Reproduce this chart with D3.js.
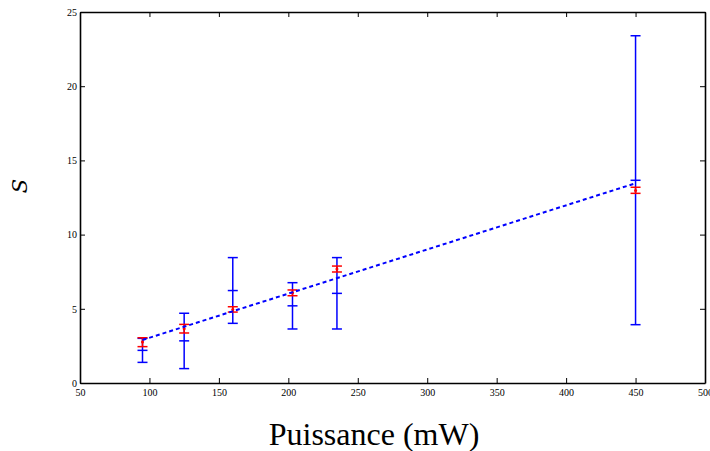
<!DOCTYPE html>
<html><head><meta charset="utf-8">
<script src="https://cdn.jsdelivr.net/npm/d3@7"></script>
<style>body{margin:0;background:#fff}svg{display:block}</style>
</head><body>
<svg id="c" width="710" height="451"></svg>
<script>
const power = [95, 125, 160, 203, 235, 450];
const blueMid = [2.2, 2.84, 6.23, 5.2, 6.04, 13.66];
const blueLow = [1.39, 0.97, 4.02, 3.64, 3.64, 3.93];
const blueHigh = [3.01, 4.70, 8.45, 6.76, 8.45, 23.40];
const redMid = [2.76, 3.66, 4.96, 6.08, 7.68, 12.98];
const redLow = [2.45, 3.37, 4.78, 5.88, 7.48, 12.78];
const redHigh = [3.05, 3.95, 5.14, 6.27, 7.88, 13.19];
const fitX = [95, 450];
const fitY = [2.9, 13.46];
const xTicks = [50,100,150,200,250,300,350,400,450,500];
const yTicks = [0,5,10,15,20,25];

const svg = d3.select("#c");
const L=80, R=705, T=12, B=383;
const x = d3.scaleLinear().domain([50,500]).range([L,R]);
const y = d3.scaleLinear().domain([0,25]).range([B,T]);
const font = "'Liberation Serif','DejaVu Serif',serif";

function styleAxis(g){
  g.selectAll("path.domain").attr("stroke","#000").attr("stroke-width",1.6);
  g.selectAll(".tick line").attr("stroke","#000").attr("stroke-width",1);
  g.selectAll(".tick text").attr("font-family",font).attr("font-size",10).attr("fill","#000");
}
svg.append("g").attr("transform",`translate(0,${B})`)
  .call(d3.axisBottom(x).tickValues(xTicks).tickSize(-5).tickPadding(6).tickSizeOuter(0).tickFormat(d3.format("d"))).call(styleAxis);
svg.append("g").attr("transform",`translate(0,${T})`)
  .call(d3.axisTop(x).tickValues(xTicks).tickSize(-5).tickSizeOuter(0).tickFormat("")).call(styleAxis);
svg.append("g").attr("transform",`translate(${L},0)`)
  .call(d3.axisLeft(y).tickValues(yTicks).tickSize(-5).tickPadding(3).tickSizeOuter(0).tickFormat(d3.format("d"))).call(styleAxis);
svg.append("g").attr("transform",`translate(${R},0)`)
  .call(d3.axisRight(y).tickValues(yTicks).tickSize(-5).tickSizeOuter(0).tickFormat("")).call(styleAxis);

function errorBars(cls, color, low, high, cap){
  const g = svg.append("g").attr("class",cls).attr("stroke",color).attr("stroke-width",1.5).attr("fill","none");
  power.forEach((p,i)=>{
    const cx = x(p);
    g.append("line").attr("x1",cx).attr("x2",cx).attr("y1",y(low[i])).attr("y2",y(high[i]));
    [low[i],high[i]].forEach(v=>g.append("line").attr("x1",cx-cap).attr("x2",cx+cap).attr("y1",y(v)).attr("y2",y(v)));
  });
  return g;
}
const gb = errorBars("blue","#0000ff",blueLow,blueHigh,5);
power.forEach((p,i)=>gb.append("line").attr("x1",x(p)-5).attr("x2",x(p)+5).attr("y1",y(blueMid[i])).attr("y2",y(blueMid[i])));
errorBars("red","#ff0000",redLow,redHigh,5);
power.forEach((p,i)=>svg.append("circle").attr("cx",x(p)).attr("cy",y(redMid[i])).attr("r",1.5).attr("fill","#ff0000"));

svg.append("path").datum(fitX.map((v,i)=>[v,fitY[i]]))
  .attr("d",d3.line().x(d=>x(d[0])).y(d=>y(d[1])))
  .attr("stroke","#0000ff").attr("stroke-width",2).attr("stroke-dasharray","4,3").attr("fill","none");

svg.append("text").attr("x",374).attr("y",445).attr("text-anchor","middle")
  .attr("font-family",font).attr("font-size",32).attr("fill","#000").text("Puissance (mW)");
svg.append("text").attr("transform","translate(27,186) rotate(-90)").attr("text-anchor","middle")
  .attr("font-family","'DejaVu Serif',serif").attr("font-style","italic").attr("font-size",21).attr("fill","#000").text("S");
</script>
</body></html>
